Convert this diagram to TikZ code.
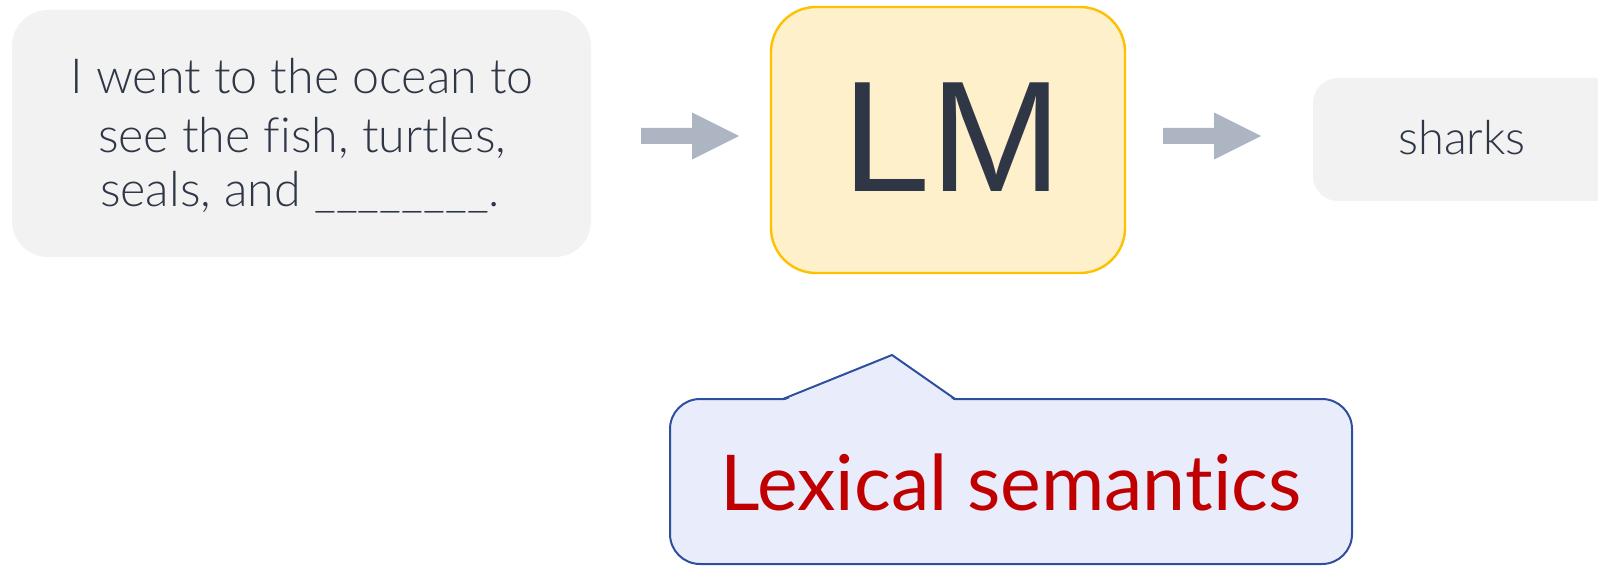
\documentclass[tikz,border=0pt]{standalone}
\usepackage{fontspec}
\usetikzlibrary{calc}
\setmainfont{Lato}[UprightFont=* Light, Ligatures=NoCommon]
\newfontfamily\labelfont{Lato}[Ligatures=NoCommon]
\newfontfamily\lmfont{Liberation Sans}
\definecolor{ink}{HTML}{2F3747}
\definecolor{boxgray}{HTML}{F2F2F2}
\definecolor{arrowgray}{HTML}{ADB5C2}
\definecolor{lmfill}{HTML}{FFF0CC}
\definecolor{lmborder}{HTML}{FFC000}
\definecolor{callfill}{HTML}{E8ECFB}
\definecolor{callborder}{HTML}{2E4E9E}
\definecolor{semred}{HTML}{C00000}
\begin{document}
\begin{tikzpicture}[x=0.5pt,y=-0.5pt,
  graybox/.style={fill=boxgray, inner sep=0pt, draw=none},
  bodytext/.style={text=ink, inner sep=0pt, anchor=base, font=\fontsize{24.2pt}{28pt}\selectfont},
  lmbox/.style={fill=lmfill, draw=lmborder, line width=1.2pt, rounded corners=22.5pt,
    minimum width=177pt, minimum height=133pt, inner sep=0pt},
  callbox/.style={fill=callfill, draw=callborder, line width=1pt, rounded corners=15pt,
    minimum width=341pt, minimum height=82.5pt, inner sep=0pt},
  blockarrow/.style={fill=arrowgray}
]
\useasboundingbox (0,0) rectangle (1598,566);
\clip (0,0) rectangle (1598,566);

% input sentence
\node[graybox, rounded corners=18pt, minimum width=289.5pt, minimum height=123.5pt] (src) at (301.5,133.5) {};
\node[bodytext] (l1) at (302,94) {I went to the ocean to};
\node[bodytext] (l2) at (302,153) {see the fish, turtles,};
\node[bodytext] (l3) at (300,207) {seals, and \_\_\_\_\_\_\_\_.};

% language model
\node[lmbox] (lm) at (948,140) {};
\node[text=ink, inner sep=0pt, anchor=base, font=\lmfont\fontsize{79pt}{79pt}\selectfont] (lmtext) at (952,192) {LM};

% prediction
\node[graybox, rounded corners=12.5pt, minimum width=163.5pt, minimum height=61.5pt] (out) at (1476.5,139.5) {};
\node[bodytext, font=\fontsize{23.5pt}{28pt}\selectfont] (outtext) at (1462,155) {sharks};

% block arrows
\coordinate (a1) at (641,136);
\coordinate (a2) at (1163,136);
\foreach \c in {a1,a2}{
  \fill[blockarrow, shift={(\c)}] (0,-8) -- (51,-8) -- (51,-23.5) -- (98,0) -- (51,23.5) -- (51,8) -- (0,8) -- cycle;
}

% callout
\node[callbox] (sem) at (1011,481.5) {};
\coordinate (p1) at (783,399);
\coordinate (tip) at (892,355);
\coordinate (p2) at (955,399);
\fill[callfill] ($(p1)+(0,2)$) -- (tip) -- ($(p2)+(0,2)$) -- cycle;
\draw[callborder, line width=1pt, line join=miter] (p1) -- (tip) -- (p2);
\node[text=semred, inner sep=0pt, anchor=base, font=\labelfont\fontsize{38.5pt}{39pt}\selectfont] (semtext) at (1011,510) {Lexical semantics};
\end{tikzpicture}
\end{document}
